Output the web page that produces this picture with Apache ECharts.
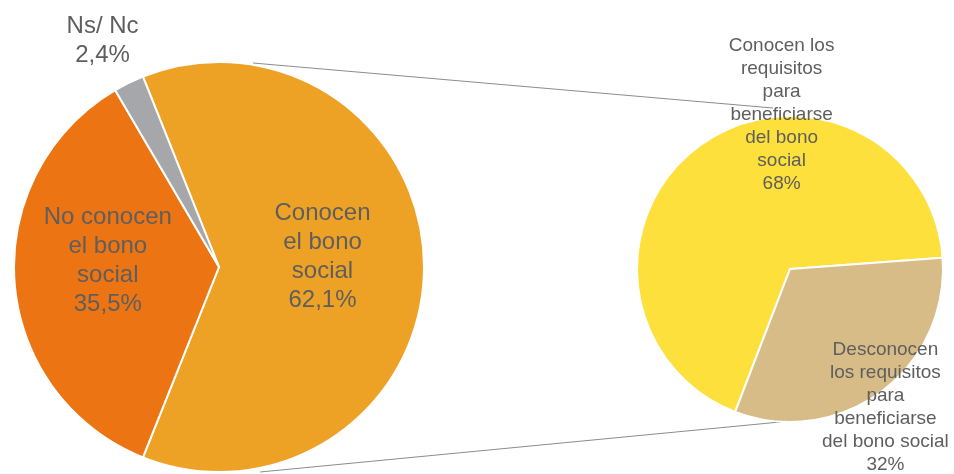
<!DOCTYPE html>
<html>
<head>
<meta charset="utf-8">
<script src="https://cdn.jsdelivr.net/npm/echarts@6/dist/echarts.min.js"></script>
<style>html,body{margin:0;padding:0;background:#fff}#c{width:954px;height:474px}</style>
</head>
<body>
<div id="c"></div>
<script>
// Left pie data
const mainCategories = ['Conocen el bono social', 'No conocen el bono social', 'Ns/ Nc'];
const mainValues = [62.1, 35.5, 2.4];
const mainLabels = ['Conocen\nel bono\nsocial\n62,1%', 'No conocen\nel bono\nsocial\n35,5%', 'Ns/ Nc\n2,4%'];
// Right pie data (breakdown of "Conocen")
const subCategories = ['Conocen los requisitos para beneficiarse del bono social', 'Desconocen los requisitos para beneficiarse del bono social'];
const subValues = [68, 32];
const subLabels = ['Conocen los\nrequisitos\npara\nbeneficiarse\ndel bono\nsocial\n68%', 'Desconocen\nlos requisitos\npara\nbeneficiarse\ndel bono social\n32%'];

const mainColors = ['#EDA226', '#ED7413', '#A6A7AA'];
const subColors = ['#FDE03C', '#D8BC87'];
const mainOffsets = [[-2, -10], [-6, -14], [-70, -131]];
const subOffsets = [[39, -90], [48, 74]];

const chart = echarts.init(document.getElementById('c'));
const font = '"Liberation Sans", Arial, sans-serif';
chart.setOption({
  animation: false,
  backgroundColor: '#fff',
  graphic: [
    {type: 'line', shape: {x1: 253, y1: 63, x2: 773, y2: 108}, style: {stroke: '#8c8c8c', lineWidth: 1}, z: 0},
    {type: 'line', shape: {x1: 260, y1: 472, x2: 780, y2: 422}, style: {stroke: '#8c8c8c', lineWidth: 1}, z: 0}
  ],
  series: [
    {
      type: 'pie',
      center: [219, 267],
      radius: 205,
      startAngle: 111.78,
      clockwise: true,
      avoidLabelOverlap: false,
      itemStyle: {borderColor: '#fff', borderWidth: 2},
      labelLine: {show: false},
      data: mainCategories.map((n, i) => ({
        name: n, value: mainValues[i],
        itemStyle: {color: mainColors[i]},
        label: {show: true, position: 'inside', formatter: mainLabels[i], offset: mainOffsets[i],
          color: '#5e5e5e', fontFamily: font, fontSize: 24, lineHeight: 29, align: 'center'}
      })),
      emphasis: {disabled: true}
    },
    {
      type: 'pie',
      center: [790, 269],
      radius: 153,
      startAngle: 249,
      clockwise: true,
      avoidLabelOverlap: false,
      itemStyle: {borderColor: '#fff', borderWidth: 2},
      labelLine: {show: false},
      data: subCategories.map((n, i) => ({
        name: n, value: subValues[i],
        itemStyle: {color: subColors[i]},
        label: {show: true, position: 'inside', formatter: subLabels[i], offset: subOffsets[i],
          color: '#5e5e5e', fontFamily: font, fontSize: 19, lineHeight: 23, align: 'center'}
      })),
      emphasis: {disabled: true}
    }
  ]
});
</script>
</body>
</html>
